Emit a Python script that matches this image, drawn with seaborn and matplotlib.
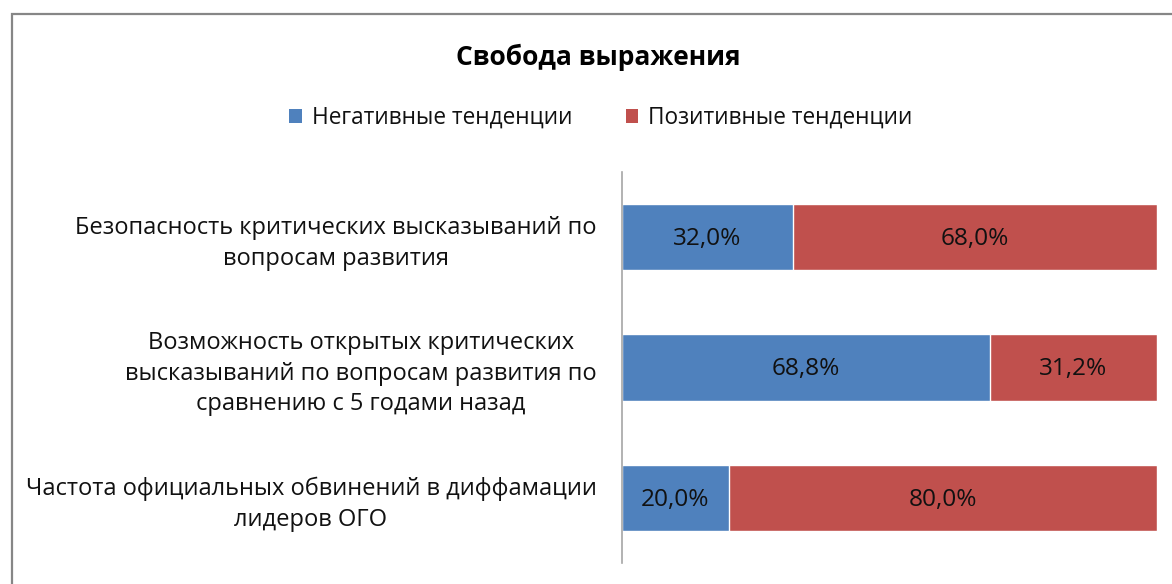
import matplotlib
matplotlib.use("Agg")
import matplotlib.pyplot as plt
from matplotlib.patches import Rectangle, Patch
import seaborn as sns
import pandas as pd

categories = [
    "Безопасность критических высказываний по\nвопросам развития",
    "Возможность открытых критических\nвысказываний по вопросам развития по\nсравнению с 5 годами назад",
    "Частота официальных обвинений в диффамации\nлидеров ОГО",
]
negative = [32.0, 68.8, 20.0]
positive = [68.0, 31.2, 80.0]
series_names = ["Негативные тенденции", "Позитивные тенденции"]
title = "Свобода выражения"

blue = "#4F81BD"
red = "#C0504D"

sns.set_theme(style="white")
plt.rcParams["font.family"] = ["Open Sans", "DejaVu Sans"]

df = pd.DataFrame({"cat": categories, "neg": negative, "pos": positive})
df["total"] = df["neg"] + df["pos"]

fig = plt.figure(figsize=(11.72, 5.84), dpi=100)
ax = fig.add_axes([621.5 / 1172, 1 - 563 / 584, (1157 - 621.5) / 1172, (563 - 172) / 584])

sns.barplot(data=df, x="total", y="cat", color=red, saturation=1, width=0.51, ax=ax, orient="h")
sns.barplot(data=df, x="neg", y="cat", color=blue, saturation=1, width=0.51, ax=ax, orient="h")

fs_val = 17.6
for i, (n, p) in enumerate(zip(negative, positive)):
    ax.text(n / 2, i + 0.015, f"{n:.1f}%".replace(".", ","), ha="center", va="center", fontsize=fs_val, color="#111111")
    ax.text(n + p / 2, i + 0.015, f"{p:.1f}%".replace(".", ","), ha="center", va="center", fontsize=fs_val, color="#111111")

ax.set_xlim(0, 100)
ax.set_ylim(2.5, -0.5)
ax.set_xlabel("")
ax.set_ylabel("")
ax.set_xticks([])
for s in ["top", "right", "bottom"]:
    ax.spines[s].set_visible(False)
ax.spines["left"].set_color("#A6A6A6")
ax.spines["left"].set_linewidth(1.2)
ax.tick_params(axis="y", length=0, pad=18, labelsize=17, labelcolor="#111111")
for t in ax.get_yticklabels():
    t.set_multialignment("center")
    t.set_linespacing(1.37)

fig.text(598 / 1172, 1 - 57 / 584, title, ha="center", va="center", fontsize=19, fontweight="bold", color="black")

handles = [Patch(facecolor=blue, edgecolor="none"), Patch(facecolor=red, edgecolor="none")]
fig.legend(handles, series_names, loc="center", bbox_to_anchor=(601 / 1172, 1 - 118 / 584), ncol=2,
           frameon=False, fontsize=16.3, handlelength=0.55, handleheight=0.55, handletextpad=0.45,
           columnspacing=2.35, labelcolor="#111111")

fig.patches.append(Rectangle((12 / 1172, -0.1), 1.2, 1 - 14 / 584 + 0.1, transform=fig.transFigure,
                             fill=False, edgecolor="#868686", linewidth=1.6, zorder=-1))

fig.savefig("out.png", dpi=100)
